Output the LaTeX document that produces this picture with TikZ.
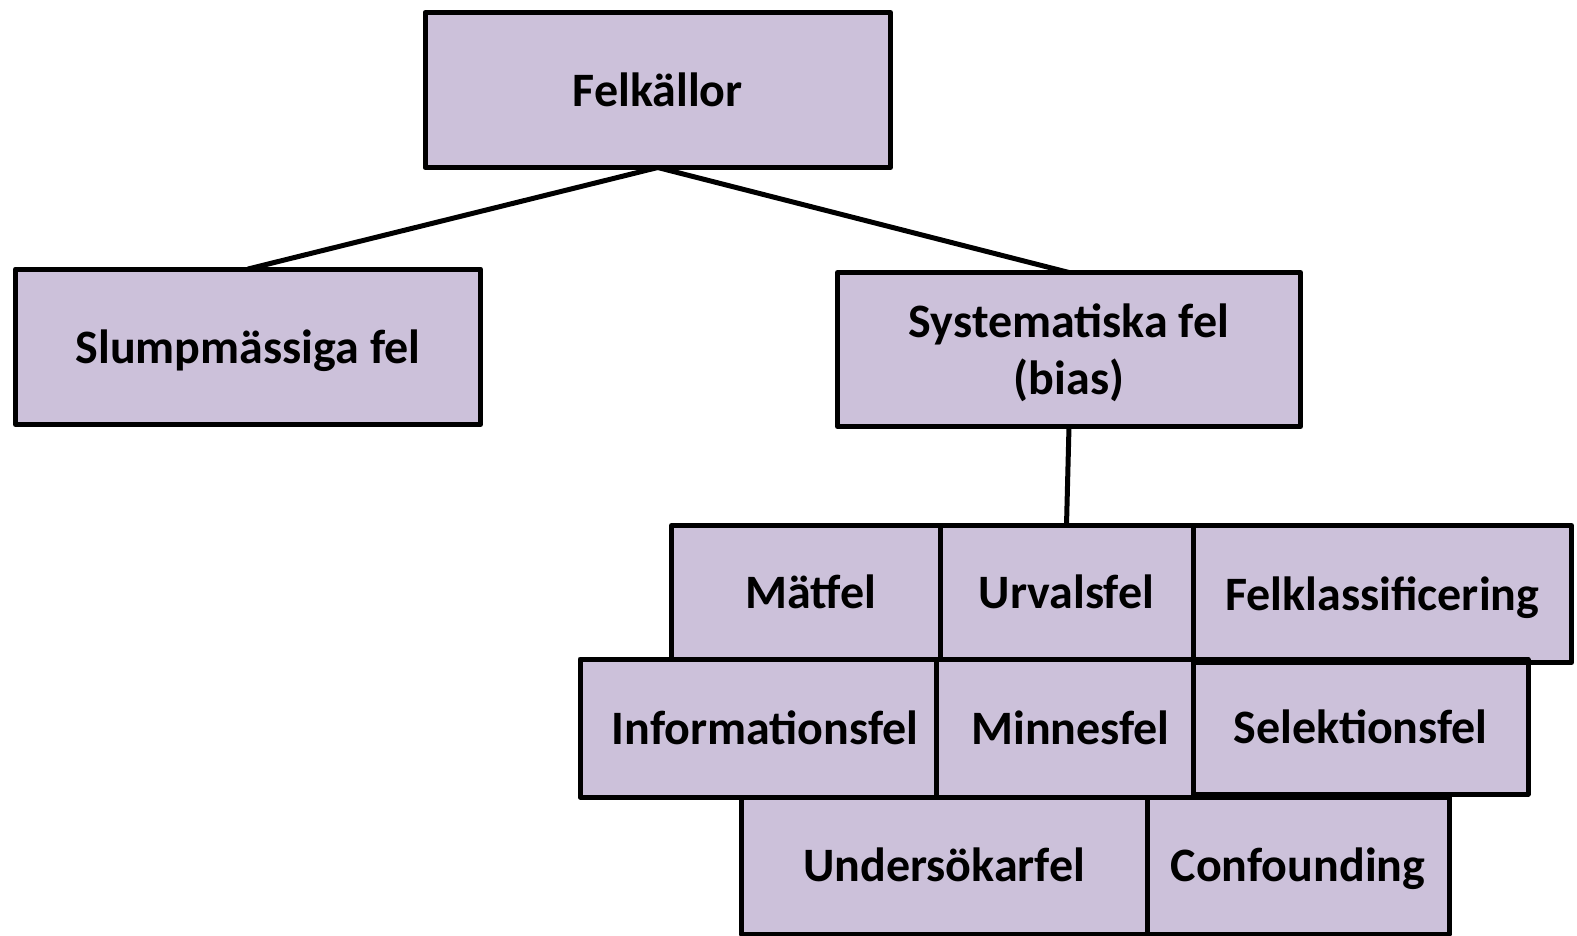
\documentclass[tikz,border=0pt]{standalone}
\usepackage{fontspec}
\setmainfont{Carlito}
\definecolor{boxfill}{HTML}{CCC1DA}
\tikzset{
  box/.style={fill=boxfill, inner sep=0pt, outer sep=0pt, align=center,
    text height=32.6pt, text depth=0pt,
    font=\fontsize{48}{57}\selectfont\bfseries},
  edge/.style={line width=5pt, line join=round},
}
\begin{document}
\begin{tikzpicture}[x=1pt,y=-1pt]
\useasboundingbox (0,0) rectangle (1577,935);
\node[box, minimum width=465.5pt, minimum height=155pt] (fk) at (657.75,90) {Felkällor};
\node[box, minimum width=465pt, minimum height=155.5pt] (sl) at (248,346.75) {Slumpmässiga fel};
\node[box, minimum width=463pt, minimum height=154pt, text height=89.6pt] (sy) at (1069,349.5) {Systematiska fel\\(bias)};
\node[box, minimum width=268.5pt, minimum height=133.5pt] (ma) at (805.75,592.25) {\hspace*{10pt}Mätfel};
\node[box, minimum width=253pt, minimum height=133.5pt] (ur) at (1066.5,592.25) {Urvalsfel};
\node[box, minimum width=378.5pt, minimum height=137pt] (fkl) at (1382.25,594) {Felklassificering};
\node[box, minimum width=356pt, minimum height=138pt] (inf) at (758,728) {\hspace*{14pt}Informationsfel};
\node[box, minimum width=257pt, minimum height=138pt] (mi) at (1064.5,728) {\hspace*{12pt}Minnesfel};
\node[box, minimum width=335pt, minimum height=134.5pt] (se) at (1360.5,726.75) {Selektionsfel};
\node[box, minimum width=405.5pt, minimum height=137pt] (un) at (944.25,865.5) {Undersökarfel};
\node[box, minimum width=302pt, minimum height=137pt] (co) at (1298,865.5) {Confounding};
\foreach \n in {fk,sl,sy,ma,ur,fkl,inf,mi,se,un,co}
  \draw[edge] (\n.south west) rectangle (\n.north east);
\draw[edge] (fk.south) -- (sl.north);
\draw[edge] (fk.south) -- (sy.north);
\draw[edge] (sy.south) -- (ur.north);
\end{tikzpicture}
\end{document}
